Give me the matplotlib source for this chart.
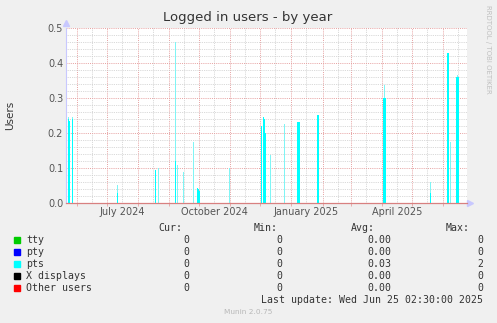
import datetime as dt
import numpy as np
import matplotlib
matplotlib.use("Agg")
import matplotlib.pyplot as plt
import matplotlib.dates as mdates
from matplotlib.patches import Rectangle

# Data to be represented
# ----------
end = dt.datetime(2025, 6, 25, 2, 30)
start = end - dt.timedelta(days=400)

# daily averages of pts sessions (solid part)
pts_dates = ["2024-05-23", "2024-05-24", "2024-05-27", "2024-07-11", "2024-08-18",
             "2024-09-07", "2024-09-29", "2024-09-30", "2024-10-01", "2024-12-02",
             "2024-12-04", "2024-12-05", "2024-12-06", "2025-01-07", "2025-01-08",
             "2025-01-27", "2025-04-02", "2025-04-03", "2025-04-04", "2025-05-19",
             "2025-06-05", "2025-06-06", "2025-06-14", "2025-06-15", "2025-06-16"]
pts_avg = [0.24, 0.235, 0.24, 0.03, 0.094,
           0.12, 0.043, 0.04, 0.035, 0.22,
           0.247, 0.24, 0.2, 0.232, 0.232,
           0.251, 0.30, 0.30, 0.30, 0.03,
           0.428, 0.428, 0.36, 0.36, 0.36]

# short peaks that only partly fill a day column (drawn faded)
peak_dates = ["2024-05-23", "2024-05-27", "2024-07-11", "2024-08-21", "2024-09-07",
              "2024-09-09", "2024-09-15", "2024-09-25", "2024-10-31", "2024-12-11",
              "2024-12-25", "2025-04-03", "2025-05-19", "2025-06-08", "2025-06-15"]
peak_vals = [0.245, 0.245, 0.051, 0.10, 0.46,
             0.11, 0.09, 0.175, 0.10, 0.137,
             0.225, 0.337, 0.061, 0.175, 0.366]

series = ["tty", "pty", "pts", "X displays", "Other users"]
series_colors = ["#00cc00", "#0000ff", "#00ffff", "#000000", "#ff0000"]
cur = ["0", "0", "0", "0", "0"]
minv = ["0", "0", "0", "0", "0"]
avg = ["0.00", "0.00", "0.03", "0.00", "0.00"]
maxv = ["0", "0", "2", "0", "0"]
# ----------

W, H = 497, 323
bg = "#f0f0f0"
fig = plt.figure(figsize=(W / 100, H / 100), dpi=100, facecolor=bg)

# plot area in pixels: x 66..467, y 28..203
ax = fig.add_axes([66 / W, 1 - 203 / H, (467 - 66) / W, 175 / H], facecolor="white")

to_dt = lambda s: dt.datetime.strptime(s, "%Y-%m-%d") + dt.timedelta(hours=12)
ax.bar([to_dt(d) for d in peak_dates], peak_vals, width=1.1, color="#7ff5f5",
       linewidth=0, antialiased=False, zorder=3)
ax.bar([to_dt(d) for d in pts_dates], pts_avg, width=1.1, color="#00ffff",
       linewidth=0, antialiased=False, zorder=4)

ax.set_xlim(start, end)
ax.set_ylim(0, 0.5)

# grid: months major (red), mid-month minor (grey)
ax.xaxis.set_major_locator(mdates.MonthLocator())
ax.xaxis.set_minor_locator(mdates.MonthLocator(bymonthday=16))
ax.set_yticks(np.arange(0, 0.51, 0.1))
ax.set_yticks(np.arange(0, 0.51, 0.02), minor=True)
ax.grid(which="minor", color="#cccccc", linestyle=(0, (1, 1.2)), linewidth=0.6, zorder=1)
ax.grid(which="major", color="#e6a0a0", linestyle=(0, (1, 1.2)), linewidth=0.7, zorder=2)
ax.xaxis.set_major_formatter(plt.NullFormatter())
ax.tick_params(which="both", length=2, width=0.6, color="#e8a0a0", labelsize=7,
               labelcolor="#555555", pad=2)
ax.tick_params(axis="y", which="both", length=0)
ax.tick_params(axis="x", which="minor", length=0)
ax.set_yticklabels(["0.0", "0.1", "0.2", "0.3", "0.4", "0.5"])

# month labels centred mid-month
for m in [dt.datetime(2024, 7, 16), dt.datetime(2024, 10, 16),
          dt.datetime(2025, 1, 16), dt.datetime(2025, 4, 16)]:
    ax.text(m, -0.027, m.strftime("%B %Y"), ha="center", va="center",
            fontsize=7, color="#555555", clip_on=False)

for side in ["top", "right"]:
    ax.spines[side].set_visible(False)
ax.spines["left"].set_color("#c8c8ff")
ax.spines["bottom"].set_color("#d88080")
ax.spines["left"].set_linewidth(0.8)
ax.spines["bottom"].set_linewidth(0.9)
ax.spines["bottom"].set_zorder(5)
ax.plot([0], [1.03], marker="^", color="#c8c8ff", markersize=4,
        transform=ax.transAxes, clip_on=False)
ax.plot([1.008], [0], marker=">", color="#c8c8ff", markersize=4,
        transform=ax.transAxes, clip_on=False)

def px(x, y):
    return x / W, 1 - y / H

fig.text(*px(248, 18), "Logged in users - by year", ha="center", va="center",
         fontsize=9.5, color="#333333")
fig.text(*px(10, 115), "Users", ha="center", va="center", rotation=90,
         fontsize=7.5, color="#333333")
fig.text(*px(488, 5), "RRDTOOL / TOBI OETIKER", ha="center", va="top",
         rotation=-90, fontsize=5, color="#c0c0c0")

# legend table
mono = "DejaVu Sans Mono"
fs = 7.1
tc = "#333333"
for txt, xr in zip(["Cur:", "Min:", "Avg:", "Max:"], [182, 278, 375, 470]):
    fig.text(*px(xr, 228), txt, ha="right", va="center", family=mono, fontsize=fs, color=tc)
for i, name in enumerate(series):
    y = 240 + i * 12
    fig.patches.append(Rectangle(px(14, y + 3), 6 / W, 6 / H, color=series_colors[i],
                                 transform=fig.transFigure, figure=fig))
    fig.text(*px(26, y), name, ha="left", va="center", family=mono, fontsize=fs, color=tc)
    for val, xr in zip([cur[i], minv[i], avg[i], maxv[i]], [189.5, 282, 391, 483]):
        fig.text(*px(xr, y), val, ha="right", va="center", family=mono, fontsize=fs, color=tc)
fig.text(*px(483, 300), "Last update: Wed Jun 25 02:30:00 2025", ha="right", va="center",
         family=mono, fontsize=fs, color=tc)
fig.text(*px(248, 311.5), "Munin 2.0.75", ha="center", va="center",
         fontsize=5.3, color="#b8b8b8")

fig.savefig("out.png", dpi=100, facecolor=bg)
